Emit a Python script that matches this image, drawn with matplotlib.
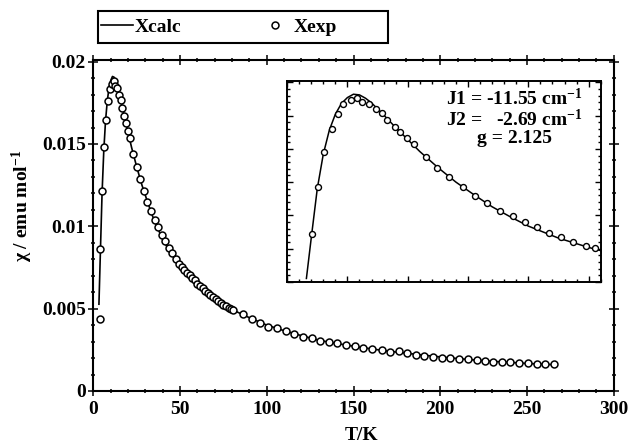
import matplotlib
matplotlib.use('Agg')
import matplotlib.pyplot as plt
from matplotlib.ticker import MultipleLocator, NullFormatter
from matplotlib.patches import Rectangle

plt.rcParams['font.family'] = ['Liberation Serif', 'DejaVu Serif']
plt.rcParams['font.weight'] = 'bold'
plt.rcParams['mathtext.fontset'] = 'custom'
plt.rcParams['mathtext.rm'] = 'Liberation Serif:bold'
plt.rcParams['mathtext.default'] = 'rm'

# experimental susceptibility (T in K, chi in emu/mol)
T_exp = [3.8, 4.1, 5.1, 6.2, 7.4, 8.4, 9.3, 10.6, 11.6, 12.5, 13.5, 14.7, 15.7, 16.6,
         17.9, 18.8, 19.8, 21.0, 23.0, 24.9, 26.9, 29.1, 31.2, 33.1, 35.3, 37.5, 39.4,
         41.5, 43.4, 45.4, 47.4, 49.6, 51.0, 52.5, 54.0, 55.5, 57.0, 58.5, 60.0, 61.5,
         63.0, 64.5, 66.0, 67.5, 69.0, 70.5, 72.0, 73.5, 75.0, 76.5, 78.0, 79.5, 80.7,
         86.4, 91.6, 96.1, 100.9, 105.7, 110.9, 115.9, 121.1, 126.3, 130.7, 135.9,
         140.7, 145.7, 150.9, 155.7, 160.9, 166.3, 171.1, 176.3, 180.7, 185.9, 190.9,
         196.1, 200.9, 205.7, 211.1, 216.3, 221.1, 225.9, 230.7, 235.6, 240.3, 245.7,
         250.5, 255.7, 260.5, 265.7]
chi_exp = [0.00436, 0.00861, 0.01216, 0.01479, 0.01647, 0.01762, 0.01835, 0.01867,
           0.01880, 0.01854, 0.01837, 0.01800, 0.01767, 0.01717, 0.01667, 0.01625,
           0.01580, 0.01534, 0.01437, 0.01359, 0.01286, 0.01216, 0.01148, 0.01091,
           0.01036, 0.00996, 0.00948, 0.00911, 0.00870, 0.00836, 0.00803, 0.00770,
           0.00752, 0.00735, 0.00718, 0.00703, 0.00688, 0.00673, 0.00650, 0.00637,
           0.00623, 0.00608, 0.00594, 0.00582, 0.00569, 0.00557, 0.00545, 0.00535,
           0.00525, 0.00515, 0.00506, 0.00498, 0.00490, 0.00466, 0.00438, 0.00412,
           0.00391, 0.00381, 0.00365, 0.00347, 0.00330, 0.00320, 0.00304, 0.00296,
           0.00290, 0.00280, 0.00274, 0.00263, 0.00255, 0.00249, 0.00239, 0.00243,
           0.00229, 0.00219, 0.00213, 0.00209, 0.00203, 0.00199, 0.00195, 0.00193,
           0.00188, 0.00182, 0.00178, 0.00178, 0.00178, 0.00168, 0.00168, 0.00162,
           0.00162, 0.00162]

# fitted curve
T_calc = [3.2, 4.0, 5.0, 6.0, 7.0, 8.0, 9.0, 10.0, 11.0, 12.0, 13.0, 14.0, 15.0, 16.0,
          18.0, 20.0, 22.0, 25.0, 28.0, 31.0, 34.0, 37.0, 40.0, 45.0, 50.0, 55.0, 60.0,
          65.0, 70.0, 75.0, 80.0, 90.0, 100.0, 110.0, 120.0, 130.0, 140.0, 150.0, 160.0,
          170.0, 180.0, 190.0, 200.0, 210.0, 220.0, 230.0, 240.0, 250.0, 265.0]
chi_calc = [0.00527, 0.0083, 0.0120, 0.0146, 0.0164, 0.0176, 0.0184, 0.01885, 0.0191,
            0.01905, 0.0188, 0.01845, 0.0180, 0.01755, 0.0166, 0.0157, 0.0148, 0.0136,
            0.0125, 0.01155, 0.01065, 0.0099, 0.0092, 0.0083, 0.0076, 0.0070, 0.00650,
            0.00604, 0.00562, 0.00526, 0.00494, 0.00445, 0.00400, 0.00366, 0.00336,
            0.00308, 0.00289, 0.00272, 0.00256, 0.00242, 0.00230, 0.00218, 0.00207,
            0.00197, 0.00188, 0.00180, 0.00174, 0.00167, 0.00160]

fit_text = 'J1 = -11.55 cm$^{-1}$\nJ2 =   -2.69 cm$^{-1}$\ng = 2.125'

fig = plt.figure(figsize=(6.31, 4.47), dpi=100)
ax = fig.add_axes([0.148, 0.1253, 0.8245, 0.7405])

calc_line, = ax.plot(T_calc, chi_calc, color='black', lw=1.2, label='Xcalc')
exp_pts, = ax.plot(T_exp, chi_exp, 'o', mfc='white', mec='black', mew=1.1, ms=5,
                   label='Xexp')

ax.set_xlim(0, 300)
ax.set_ylim(0, 0.0201)
ax.xaxis.set_major_locator(MultipleLocator(50))
ax.xaxis.set_minor_locator(MultipleLocator(10))
ax.yaxis.set_major_locator(MultipleLocator(0.005))
ax.yaxis.set_minor_locator(MultipleLocator(0.001))
ax.set_yticks([0, 0.005, 0.01, 0.015, 0.02])
ax.set_yticklabels(['0', '0.005', '0.01', '0.015', '0.02'])
ax.tick_params(which='both', top=True, right=True, direction='inout', width=1.1)
ax.tick_params(which='major', length=7, labelsize=14)
ax.tick_params(which='minor', length=3.5)
ax.tick_params(axis='y', pad=2)
ax.tick_params(axis='x', pad=4)
for s in ax.spines.values():
    s.set_linewidth(1.5)

ax.set_xlabel('T/K', fontsize=14, fontweight='bold')
ax.set_ylabel('χ / emu mol$^{-1}$', fontsize=14, fontweight='bold')
ax.xaxis.set_label_coords(0.515, -0.108)
ax.yaxis.set_label_coords(-0.112, 0.56)

# inset: zoom on the maximum
ins = fig.add_axes([0.455, 0.369, 0.497, 0.450])
ins.plot(T_calc, chi_calc, color='black', lw=1.1)
ins.plot(T_exp, chi_exp, 'o', mfc='white', mec='black', mew=1.0, ms=4.3)
ins.set_xlim(0, 52)
ins.set_ylim(0.005, 0.0201)
ins.xaxis.set_major_locator(MultipleLocator(10))
ins.xaxis.set_minor_locator(MultipleLocator(2))
ins.yaxis.set_major_locator(MultipleLocator(0.0025))
ins.yaxis.set_minor_locator(MultipleLocator(0.0005))
ins.xaxis.set_major_formatter(NullFormatter())
ins.yaxis.set_major_formatter(NullFormatter())
ins.tick_params(which='both', top=True, right=True, direction='in', width=1.0)
ins.tick_params(which='major', length=4)
ins.tick_params(which='minor', length=2)
for s in ins.spines.values():
    s.set_linewidth(1.4)
ins.text(0.725, 0.965, fit_text, transform=ins.transAxes, ha='center', va='top',
         multialignment='center', fontsize=14, fontweight='bold', linespacing=1.0)

# legend above the plot
fig.patches.append(Rectangle((98 / 631, 1 - 43 / 447), 290 / 631, 32 / 447,
                             transform=fig.transFigure, fill=False, edgecolor='black',
                             lw=1.5))
fig.legend(handles=[calc_line, exp_pts], loc='center left',
           bbox_to_anchor=(99 / 631, 1 - 27 / 447), ncol=2, frameon=False,
           prop={'family': 'Liberation Serif', 'weight': 'bold', 'size': 14},
           handlelength=1.65, handletextpad=0.1, columnspacing=4.0, borderaxespad=0,
           borderpad=0.1)

fig.savefig('out.png', dpi=100)
